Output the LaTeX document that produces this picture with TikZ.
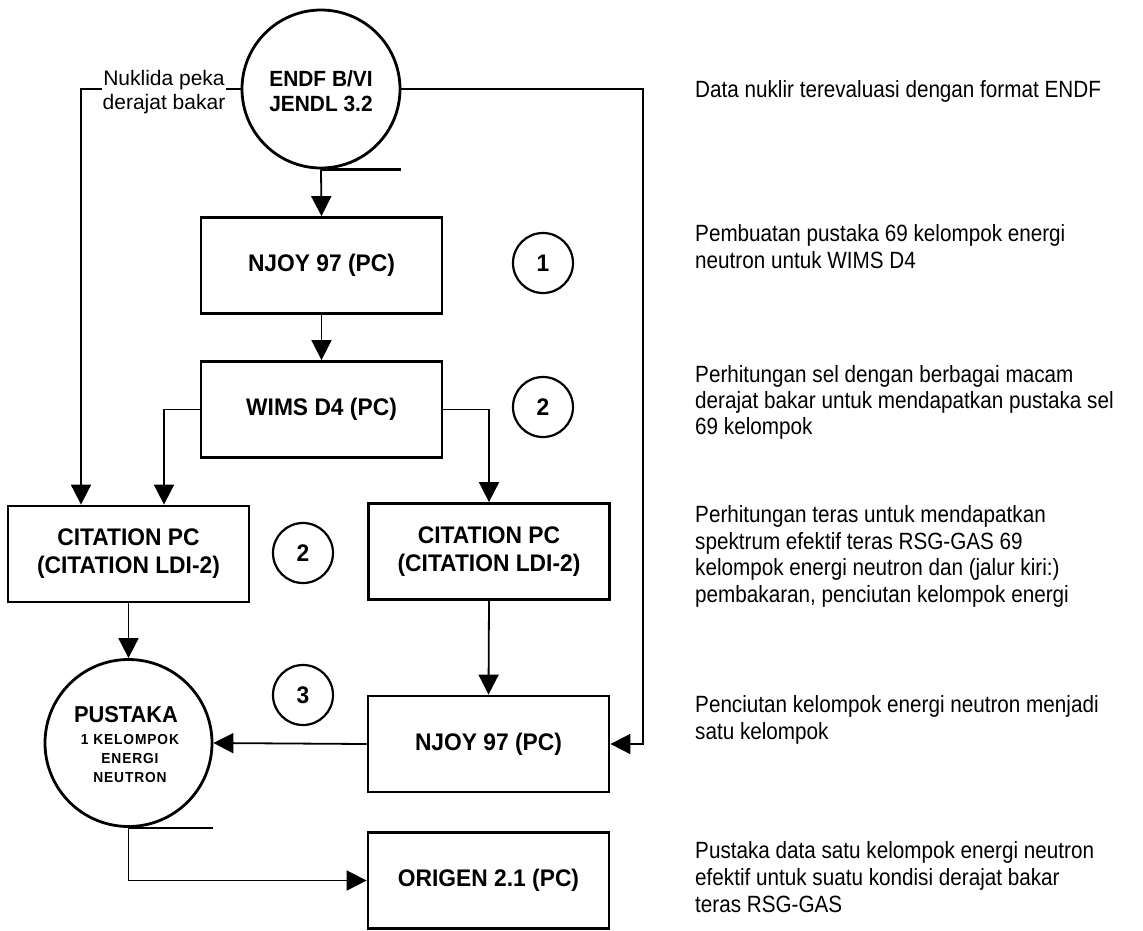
\documentclass[tikz,border=0pt]{standalone}
\usepackage{fontspec}
\setmainfont{Liberation Sans}
\newfontfamily\descfont{Liberation Sans}[FakeStretch=0.88]
\newfontfamily\boldfont{Liberation Sans}[FakeStretch=0.95]
\usetikzlibrary{arrows.meta}
\begin{document}
\begin{tikzpicture}[x=1pt,y=-1pt,
  box/.style={draw, line width=2.8pt, minimum width=241pt, minimum height=96pt, inner sep=0pt,
    font=\boldfont\bfseries\fontsize{24}{28}\selectfont, align=center},
  bigcirc/.style={draw, circle, line width=2.8pt, inner sep=0pt},
  numcirc/.style={draw, circle, line width=2.2pt, minimum size=60pt, inner sep=0pt,
    font=\boldfont\bfseries\fontsize{24}{24}\selectfont},
  conn/.style={line width=1.8pt, -{Triangle[length=20pt,width=20pt]}},
  bar/.style={line width=2.8pt},
  inlbl/.style={anchor=base, inner sep=0pt},
  desc/.style={anchor=base west, inner sep=0pt, font=\descfont\fontsize{23.5}{26.7}\selectfont},
]
\useasboundingbox (0,0) rectangle (1143,930);
\fill[white] (0,0) rectangle (1143,930);

% main nodes
\node[bigcirc, minimum size=158pt] (endf) at (321,89) {};
\node[inlbl, font=\boldfont\bfseries\fontsize{22}{22}\selectfont] (endf1) at (321,86) {ENDF B/VI};
\node[inlbl, font=\boldfont\bfseries\fontsize{22}{22}\selectfont] (endf2) at (321,111) {JENDL 3.2};

\node[box] (njoyA) at (321.5,265.5) {NJOY 97 (PC)};
\node[box] (wims) at (321.5,409.5) {WIMS D4 (PC)};
\node[box] (citL) at (128.5,554) {CITATION PC\\(CITATION LDI-2)};
\node[box] (citR) at (489,551.5) {CITATION PC\\(CITATION LDI-2)};
\node[box] (njoyB) at (488.5,744) {NJOY 97 (PC)};
\node[box] (origen) at (488.5,880.5) {ORIGEN 2.1 (PC)};

\node[bigcirc, minimum size=167pt] (pus) at (128.5,743) {};
\node[inlbl, font=\boldfont\bfseries\fontsize{23}{23}\selectfont] (pus1) at (126,722) {PUSTAKA};
\node[inlbl, font=\boldfont\bfseries\fontsize{14.5}{14.5}\selectfont\addfontfeature{LetterSpace=6}] (pus2) at (130,744) {1 KELOMPOK};
\node[inlbl, font=\boldfont\bfseries\fontsize{14.5}{14.5}\selectfont\addfontfeature{LetterSpace=6}] (pus3) at (130,763) {ENERGI};
\node[inlbl, font=\boldfont\bfseries\fontsize{14.5}{14.5}\selectfont\addfontfeature{LetterSpace=6}] (pus4) at (130,782) {NEUTRON};

% step numbers
\node[numcirc] (n1) at (543,263) {1};
\node[numcirc] (n2a) at (543,407) {2};
\node[numcirc] (n2b) at (303,553) {2};
\node[numcirc] (n3) at (303,695) {3};

% tangent bars
\draw[bar] (endf.south) -- (endf.south -| endf.east);
\draw[bar] (pus.south) -- (pus.south -| pus.east);

% connectors
\coordinate (rt) at (643,89);
\draw[conn] (endf.south) -- (njoyA.north);
\draw[conn] (njoyA.south) -- (wims.north);
\draw[conn] (wims.west) -| ([xshift=35.5pt]citL.north);
\draw[conn] (wims.east) -| (citR.north);
\draw[conn] (endf.west) -| ([xshift=-47.5pt]citL.north);
\draw[conn] (endf.east) -- (rt) |- (njoyB.east);
\draw[conn] (citL.south) -- (pus.north);
\draw[conn] (citR.south) -- (njoyB.north);
\draw[conn] (njoyB.west) -- (pus.east);
\draw[conn] (pus.south) |- (origen.west);

\node[fill=white, align=center, inner sep=1pt, font=\fontsize{21}{24}\selectfont] (lbl) at (164,92.5) {Nuklida peka\\derajat bakar};

% descriptions
\node[desc] (d1) at (695,97) {Data nuklir terevaluasi dengan format ENDF};
\node[desc] (d2a) at (695,241) {Pembuatan pustaka 69 kelompok energi};
\node[desc] (d2b) at (695,268) {neutron untuk WIMS D4};
\node[desc] (d3a) at (695,382) {Perhitungan sel dengan berbagai macam};
\node[desc] (d3b) at (695,408) {derajat bakar untuk mendapatkan pustaka sel};
\node[desc] (d3c) at (695,434) {69 kelompok};
\node[desc] (d4a) at (695,522) {Perhitungan teras untuk mendapatkan};
\node[desc] (d4b) at (695,549) {spektrum efektif teras RSG-GAS 69};
\node[desc] (d4c) at (695,575) {kelompok energi neutron dan (jalur kiri:)};
\node[desc] (d4d) at (695,602) {pembakaran, penciutan kelompok energi};
\node[desc] (d5a) at (695,712) {Penciutan kelompok energi neutron menjadi};
\node[desc] (d5b) at (695,739) {satu kelompok};
\node[desc] (d6a) at (695,858) {Pustaka data satu kelompok energi neutron};
\node[desc] (d6b) at (695,885) {efektif untuk suatu kondisi derajat bakar};
\node[desc] (d6c) at (695,912) {teras RSG-GAS};
\end{tikzpicture}
\end{document}
